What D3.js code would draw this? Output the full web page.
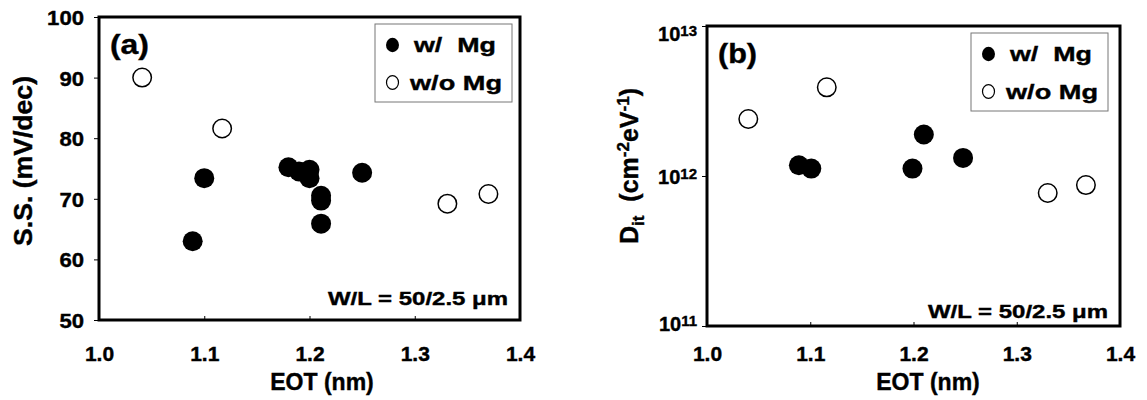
<!DOCTYPE html>
<html>
<head>
<meta charset="utf-8">
<script src="https://cdn.jsdelivr.net/npm/d3@7"></script>
<style>
  html, body { margin: 0; padding: 0; background: #fff; }
  svg { display: block; }
  text { font-family: "Liberation Sans", Arial, sans-serif; font-weight: bold; fill: #000;
         stroke: #000; stroke-width: 0.4px; }
</style>
</head>
<body>
<svg id="chart" width="1147" height="400"></svg>
<script>
// ---------- data ----------
const xTicks = [1.0, 1.1, 1.2, 1.3, 1.4];
const ssTicks = [50, 60, 70, 80, 90, 100];
const ditTicks = [1e11, 1e12, 1e13];
const ditTickExp = ["11", "12", "13"];

// panel (a): S.S. vs EOT
const eotWithMgA = [1.089, 1.100, 1.180, 1.190, 1.200, 1.200, 1.211, 1.211, 1.211, 1.250];
const ssWithMgA  = [63.0, 73.4, 75.2, 74.5, 74.8, 73.4, 70.5, 69.7, 65.9, 74.3];
const eotWithoutMgA = [1.041, 1.117, 1.331, 1.370];
const ssWithoutMgA  = [90.0, 81.6, 69.2, 70.8];

// panel (b): Dit vs EOT
const eotWithMgB = [1.089, 1.101, 1.199, 1.210, 1.248];
const ditWithMgB = [1.18e12, 1.12e12, 1.12e12, 1.89e12, 1.32e12];
const eotWithoutMgB = [1.040, 1.116, 1.330, 1.367];
const ditWithoutMgB = [2.4e12, 3.9e12, 7.7e11, 8.7e11];

const legendLabels = ["w/\u00a0\u00a0Mg", "w/o Mg"];
const noteText = "W/L = 50/2.5 \u03bcm";

// ---------- drawing ----------
const svg = d3.select("#chart");

function drawPanel(cfg) {
  const g = svg.append("g");
  const x = d3.scaleLinear().domain([1.0, 1.4]).range([cfg.left, cfg.right]);
  const y = cfg.y;

  // x ticks (inward) and labels
  const xAxis = d3.axisBottom(x).tickValues(xTicks).tickSizeInner(-4).tickSizeOuter(0)
    .tickPadding(0).tickFormat(d3.format(".1f"));
  const xg = g.append("g").attr("transform", `translate(0,${cfg.bottom})`).call(xAxis);
  xg.select(".domain").remove();
  xg.selectAll(".tick line").attr("stroke", "#000").attr("stroke-width", 1);
  xg.selectAll(".tick text").attr("y", 361 - cfg.bottom).attr("dy", null)
    .style("font-size", "21px");

  // y axis
  const yAxis = d3.axisLeft(y).tickValues(cfg.yTicks).tickSizeInner(5).tickSizeOuter(0)
    .tickPadding(cfg.yPad).tickFormat(cfg.yFormat || null);
  const yg = g.append("g").attr("transform", `translate(${cfg.left},0)`).call(yAxis);
  yg.select(".domain").remove();
  yg.selectAll(".tick line").attr("stroke", "#000").attr("stroke-width", 1);
  yg.selectAll(".tick text").style("font-size", "21px").attr("dy", "0.36em");
  if (cfg.yLabelFn) cfg.yLabelFn(yg);
  else yg.selectAll(".tick text").each(function() {
    const s = d3.select(this);
    s.attr("textLength", s.text().length * 12.3).attr("lengthAdjust", "spacingAndGlyphs");
  });

  // frame
  g.append("rect")
    .attr("x", cfg.left).attr("y", cfg.top)
    .attr("width", cfg.right - cfg.left).attr("height", cfg.bottom - cfg.top)
    .attr("fill", "none").attr("stroke", "#000").attr("stroke-width", 3);

  // points
  const r = 10;
  g.selectAll(".open").data(cfg.openX.map((d, i) => [d, cfg.openY[i]])).join("circle")
    .attr("cx", d => x(d[0])).attr("cy", d => y(d[1])).attr("r", r - 0.75)
    .attr("fill", "#fff").attr("stroke", "#000").attr("stroke-width", 1.5);
  g.selectAll(".filled").data(cfg.filledX.map((d, i) => [d, cfg.filledY[i]])).join("circle")
    .attr("cx", d => x(d[0])).attr("cy", d => y(d[1])).attr("r", r)
    .attr("fill", "#000");

  // panel label
  g.append("text").attr("x", cfg.left + 11).attr("y", cfg.top + 37)
    .attr("textLength", 39).attr("lengthAdjust", "spacingAndGlyphs")
    .style("font-size", "28px").text(cfg.tag);

  // legend
  const lx = cfg.legendX, ly = cfg.top + 7;
  g.append("rect").attr("x", lx).attr("y", ly).attr("width", 137).attr("height", 78)
    .attr("fill", "#fff").attr("stroke", "#777").attr("stroke-width", 1);
  g.append("ellipse").attr("cx", lx + 17.5).attr("cy", ly + 21).attr("rx", 6.5).attr("ry", 7.2)
    .attr("fill", "#000");
  g.append("ellipse").attr("cx", lx + 17.5).attr("cy", ly + 58.5).attr("rx", 6).attr("ry", 6.8)
    .attr("fill", "#fff").attr("stroke", "#000").attr("stroke-width", 1.2);
  g.append("text").attr("x", lx + 39).attr("y", ly + 28).style("font-size", "21px")
    .attr("textLength", 82).attr("lengthAdjust", "spacingAndGlyphs").text(legendLabels[0]);
  g.append("text").attr("x", lx + 35).attr("y", ly + 66).style("font-size", "21px")
    .attr("textLength", 92).attr("lengthAdjust", "spacingAndGlyphs").text(legendLabels[1]);

  // note
  g.append("text").attr("x", cfg.right - 192).attr("y", cfg.noteY)
    .attr("textLength", 180).attr("lengthAdjust", "spacingAndGlyphs")
    .style("font-size", "19px").text(noteText);

  // x title
  g.append("text").attr("x", cfg.xTitleX).attr("y", 390)
    .attr("text-anchor", "middle").style("font-size", "23px").text("EOT (nm)");

  // y title
  cfg.yTitle(g);
}

// panel (a)
const yA = d3.scaleLinear().domain([50, 100]).range([320, 17]);
drawPanel({
  left: 99, right: 520, top: 17, bottom: 320, y: yA, yTicks: ssTicks, yPad: 10,
  openX: eotWithoutMgA, openY: ssWithoutMgA, filledX: eotWithMgA, filledY: ssWithMgA,
  tag: "(a)", legendX: 375, xTitleX: 322, noteY: 305,
  yTitle: g => g.append("text")
    .attr("transform", "translate(32,161) rotate(-90)")
    .attr("text-anchor", "middle").style("font-size", "25px")
    .attr("textLength", 170).attr("lengthAdjust", "spacingAndGlyphs").text("S.S. (mV/dec)")
});

// panel (b)
const yB = d3.scaleLog().domain([1e11, 1e13]).range([326, 26]);
drawPanel({
  left: 707, right: 1120, top: 26, bottom: 326, y: yB, yTicks: ditTicks, yPad: 5,
  yFormat: () => "",
  yLabelFn: yg => {
    const off = [4, 7, 14];
    yg.selectAll(".tick").each(function(d, i) {
      const t = d3.select(this).select("text").text(null)
        .attr("dy", null).attr("y", off[i]);
      t.append("tspan").style("font-size", "20px").text("10");
      t.append("tspan").attr("dy", -5).style("font-size", "15px").text(ditTickExp[i]);
    });
  },
  openX: eotWithoutMgB, openY: ditWithoutMgB, filledX: eotWithMgB, filledY: ditWithMgB,
  tag: "(b)", legendX: 971, xTitleX: 928, noteY: 318,
  yTitle: g => {
    const t = g.append("text")
      .attr("transform", "translate(638,166) rotate(-90)")
      .attr("text-anchor", "middle").style("font-size", "25px");
    t.append("tspan").text("D");
    t.append("tspan").attr("dy", 6).style("font-size", "17px").text("it");
    t.append("tspan").attr("dy", -6).text("\u00a0\u00a0(cm");
    t.append("tspan").attr("dy", -9).style("font-size", "17px").text("-2");
    t.append("tspan").attr("dy", 9).text("eV");
    t.append("tspan").attr("dy", -9).style("font-size", "17px").text("-1");
    t.append("tspan").attr("dy", 9).text(")");
  }
});
</script>
</body>
</html>
